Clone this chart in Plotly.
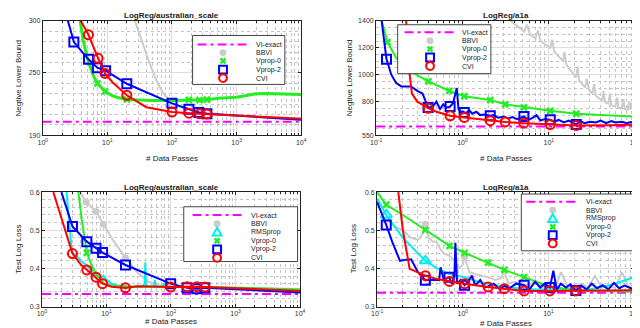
import plotly.graph_objects as go

W, H = 640, 328

# ---------------- LogReg/australian_scale : negative lower bound ----------------
aus_nlb_vi = 203.0
aus_nlb_bbvi_x = [25, 30, 35, 42, 50, 60, 72, 85, 100, 150, 300, 1000, 3000, 10000]
aus_nlb_bbvi_y = [305, 292, 279, 264, 252, 240, 231, 226, 221, 216, 212, 209, 207, 205]
aus_nlb_vp0_x = [3.8, 4.2, 5, 6, 7, 8, 9.2, 12, 15, 20, 30, 50, 100, 183, 267, 348, 520, 700,
                 1000, 1500, 2000, 3000, 5000, 10000]
aus_nlb_vp0_y = [300, 282, 262, 248, 240, 236, 232.3, 228, 226, 224.5, 223.8, 223.5, 223.5, 224,
                 223.8, 224.2, 225.5, 225.8, 226.5, 228.5, 230, 230.2, 229.8, 229.3]
aus_nlb_vp0_mx = [7, 9.2, 20, 183, 267, 348]
aus_nlb_vp0_my = [240, 232.3, 224.5, 224, 223.8, 224.2]
aus_nlb_vp2_x = [2.45, 3.03, 5.1, 7.0, 9.4, 20, 100, 183, 260, 348, 1000, 3000, 10000]
aus_nlb_vp2_y = [300, 279.6, 263, 255, 252, 239.5, 220.7, 215, 212, 210.7, 208.8, 206.8, 205]
aus_nlb_vp2_mx = [3.03, 5.1, 7.0, 9.4, 20, 100, 183, 260, 348]
aus_nlb_vp2_my = [279.6, 263, 255, 252, 239.5, 220.7, 215, 212, 210.7]
aus_nlb_cvi_x = [3.87, 4.3, 5.1, 7.2, 9.2, 12, 20, 40, 100, 183, 267, 348, 1000, 3000, 10000]
aus_nlb_cvi_y = [300, 295, 286.6, 264, 249.5, 241, 228.5, 217, 212.3, 211.3, 210.7, 210.4, 209, 207.5, 206]
aus_nlb_cvi_mx = [5.1, 7.2, 9.2, 20, 100, 183, 267, 348]
aus_nlb_cvi_my = [286.6, 264, 249.5, 228.5, 212.3, 211.3, 210.7, 210.4]

# ---------------- LogReg/a1a : negative lower bound ----------------
a1a_nlb_vi = 615.0
a1a_nlb_bbvi_x = [2.6, 3.0, 3.6, 4.3, 5.2, 5.6, 6.1, 7.0, 7.5, 8.0, 9.0, 10.4, 11.0, 11.5, 12.8,
                  14.7, 15.2, 16.0, 17.5, 19.0, 20.8, 21.5, 22.5, 24.5, 26.5, 27.5, 29.4, 32, 33.5,
                  35, 38, 41.7, 43, 45, 49, 51, 53, 59, 62, 64, 70, 73, 76, 82, 85, 88, 91, 94, 100]
a1a_nlb_bbvi_y = [1480, 1450, 1400, 1360, 1320, 1370, 1296, 1270, 1330, 1250, 1225, 1199, 1260,
                  1175, 1140, 1102, 1170, 1075, 1040, 1010, 981, 1060, 955, 930, 905, 970, 884,
                  860, 930, 845, 825, 811, 880, 795, 785, 860, 770, 763, 830, 755, 748, 820, 744,
                  740, 800, 741, 790, 738, 739]
a1a_nlb_vp0_x = [0.116, 0.1356, 0.17, 0.24, 0.403, 0.705, 1.05, 2.1, 3.13, 5.15, 10.4, 20.8, 50, 100]
a1a_nlb_vp0_y = [1400, 1242, 1126, 1030, 950, 879, 840, 812, 780, 758, 731.6, 710, 695, 688]
a1a_nlb_vp0_mx = [0.1356, 0.403, 0.705, 1.05, 2.1, 3.13, 5.15, 10.4, 20.8]
a1a_nlb_vp0_my = [1242, 950, 879, 840, 812, 780, 758, 731.6, 710]
a1a_nlb_vp2_x = [0.116, 0.132, 0.15, 0.17, 0.196, 0.22, 0.254, 0.3, 0.345, 0.39, 0.40, 0.45, 0.5,
                 0.55, 0.6, 0.65, 0.72, 0.78, 0.82, 0.86, 0.9, 0.95, 1.0, 1.1, 1.2, 1.3, 1.45, 1.6,
                 1.8, 2.1, 2.3, 2.6, 3.0, 3.4, 3.8, 4.3, 5.15, 5.8, 6.5, 7.2, 8, 9, 10.4, 11.5, 13,
                 15, 17, 20.8, 23, 26, 30, 35, 40, 46, 53, 60, 70, 80, 90, 100]
a1a_nlb_vp2_y = [1400, 1114, 1000, 940, 913, 913, 913, 880, 860, 775, 756, 760, 800, 745, 780,
                 755, 763, 790, 860, 901, 745, 720, 727, 715, 735, 710, 725, 700, 705, 695, 700,
                 680, 690, 675, 685, 670, 690, 665, 680, 700, 660, 670, 666, 650, 665, 645, 660,
                 630, 655, 640, 650, 645, 660, 640, 655, 645, 650, 640, 648, 637]
a1a_nlb_vp2_mx = [0.132, 0.40, 0.72, 1.05, 2.1, 5.15, 10.4, 20.8]
a1a_nlb_vp2_my = [1114, 756, 763, 720, 695, 690, 666, 630]
a1a_nlb_cvi_x = [0.223, 0.235, 0.26, 0.3, 0.376, 0.40, 0.5, 0.72, 1.05, 2.1, 3.13, 5.15, 10.4, 20.8, 50, 100]
a1a_nlb_cvi_y = [1400, 1100, 860, 800, 763, 751, 725, 695, 683, 659, 649, 640, 630, 623, 625, 628]
a1a_nlb_cvi_mx = [0.40, 0.72, 1.05, 2.1, 3.13, 5.15, 10.4, 20.8]
a1a_nlb_cvi_my = [751, 695, 683, 659, 649, 640, 630, 623]

# ---------------- LogReg/australian_scale : test log loss ----------------
aus_tll_vi = 0.333
aus_tll_bbvi_x = [3.6, 4.85, 6.88, 8.9, 12, 19.7, 30, 45, 63, 100, 300, 1000, 10000]
aus_tll_bbvi_y = [0.61, 0.574, 0.549, 0.516, 0.48, 0.427, 0.39, 0.365, 0.356, 0.353, 0.352, 0.35, 0.346]
aus_tll_bbvi_mx = [4.85, 6.88, 8.9, 19.7]
aus_tll_bbvi_my = [0.574, 0.549, 0.516, 0.427]
aus_tll_rms_x = [2.4, 2.9, 3.3, 4, 5, 6, 7, 8, 9, 10, 12, 15, 20, 25, 30, 36, 39, 40, 41, 45, 50,
                 55, 56, 58, 65, 75, 80, 82, 90, 100, 200, 500, 1000, 3000, 10000]
aus_tll_rms_y = [0.60, 0.446, 0.435, 0.42, 0.407, 0.39, 0.379, 0.375, 0.381, 0.37, 0.36, 0.355,
                 0.353, 0.352, 0.352, 0.353, 0.36, 0.416, 0.355, 0.352, 0.353, 0.356, 0.37, 0.353,
                 0.352, 0.354, 0.362, 0.352, 0.352, 0.352, 0.351, 0.35, 0.349, 0.346, 0.343]
aus_tll_vp0_x = [3.6, 4.2, 4.96, 6.0, 6.88, 9.2, 12, 20, 50, 100, 1000, 10000]
aus_tll_vp0_y = [0.61, 0.52, 0.441, 0.405, 0.386, 0.36, 0.355, 0.352, 0.352, 0.352, 0.349, 0.345]
aus_tll_vp0_mx = [4.96]
aus_tll_vp0_my = [0.441]
aus_tll_vp2_x = [2.0, 2.97, 4.96, 6.88, 8.7, 19.7, 98.9, 177, 252, 334, 1000, 10000]
aus_tll_vp2_y = [0.6, 0.51, 0.47, 0.4526, 0.4414, 0.409, 0.36, 0.349, 0.347, 0.349, 0.345, 0.337]
aus_tll_vp2_mx = [2.97, 4.96, 6.88, 8.7, 19.7, 98.9, 177, 252, 334]
aus_tll_vp2_my = [0.51, 0.47, 0.4526, 0.4414, 0.409, 0.36, 0.349, 0.347, 0.349]
aus_tll_cvi_x = [1.5, 2.0, 2.5, 2.97, 4.0, 4.96, 6.88, 8.7, 12, 19.7, 30, 50, 98.9, 177, 252, 334, 1000, 10000]
aus_tll_cvi_y = [0.6, 0.53, 0.475, 0.439, 0.41, 0.396, 0.377, 0.36, 0.352, 0.349, 0.353, 0.352,
                 0.351, 0.352, 0.352, 0.351, 0.348, 0.341]
aus_tll_cvi_mx = [2.97, 4.96, 6.88, 8.7, 19.7, 98.9, 177, 252, 334]
aus_tll_cvi_my = [0.439, 0.396, 0.377, 0.36, 0.349, 0.351, 0.352, 0.352, 0.351]

# ---------------- LogReg/a1a : test log loss ----------------
a1a_tll_vi = 0.336
a1a_tll_bbvi_x = [0.13, 0.16, 0.2, 0.25, 0.3, 0.34, 0.366, 0.4, 0.45, 0.49, 0.55, 0.6, 0.7, 0.8,
                  0.9, 1.0, 1.05, 1.2, 1.4, 1.7, 1.98, 2.4, 2.8, 3.06, 3.4, 4.0, 5.0, 6.0, 7.0,
                  8.5, 10, 12, 14, 17, 20, 24, 29, 35, 42, 50, 60, 72, 86, 100]
a1a_tll_bbvi_y = [0.53, 0.51, 0.5, 0.48, 0.475, 0.49, 0.516, 0.48, 0.47, 0.47, 0.45, 0.44, 0.433,
                  0.42, 0.4, 0.41, 0.43, 0.39, 0.385, 0.38, 0.377, 0.37, 0.375, 0.394, 0.36, 0.365,
                  0.36, 0.355, 0.37, 0.35, 0.356, 0.35, 0.39, 0.35, 0.348, 0.36, 0.35, 0.38, 0.349,
                  0.355, 0.348, 0.39, 0.35, 0.36]
a1a_tll_bbvi_mx = [0.366, 1.05]
a1a_tll_bbvi_my = [0.516, 0.43]
a1a_tll_rms_x = [0.1, 0.128, 0.2, 0.366, 0.5, 0.7, 1.05, 1.5, 1.98, 3, 5, 7, 10.4, 15, 20.9, 30, 50, 70, 100]
a1a_tll_rms_y = [0.583, 0.54, 0.48, 0.42, 0.4, 0.385, 0.377, 0.365, 0.36, 0.352, 0.347, 0.345,
                 0.345, 0.343, 0.342, 0.345, 0.355, 0.365, 0.377]
a1a_tll_rms_mx = [0.128, 0.366]
a1a_tll_rms_my = [0.54, 0.42]
a1a_tll_vp0_x = [0.1, 0.128, 0.2, 0.366, 0.70, 1.05, 1.98, 3.06, 5.2, 10.4, 20.9, 50, 100]
a1a_tll_vp0_y = [0.6, 0.567, 0.54, 0.501, 0.459, 0.441, 0.415, 0.396, 0.377, 0.352, 0.343, 0.34, 0.339]
a1a_tll_vp0_mx = [0.128, 0.366, 0.70, 1.05, 1.98, 3.06, 5.2]
a1a_tll_vp0_my = [0.567, 0.501, 0.459, 0.441, 0.415, 0.396, 0.377]
a1a_tll_vp2_x = [0.1, 0.128, 0.15, 0.185, 0.22, 0.25, 0.3, 0.366, 0.45, 0.53, 0.55, 0.6, 0.69,
                 0.75, 0.8, 0.82, 0.86, 0.95, 1.05, 1.15, 1.28, 1.4, 1.6, 1.8, 1.98, 2.3, 2.7,
                 3.06, 3.5, 4.2, 5.2, 6, 7, 8, 9, 10.4, 11.4, 12.5, 14, 16, 18, 20.9, 24, 28, 32,
                 37, 43, 50, 58, 67, 77, 88, 100]
a1a_tll_vp2_y = [0.574, 0.514, 0.47, 0.42, 0.423, 0.424, 0.39, 0.369, 0.37, 0.369, 0.403, 0.37,
                 0.377, 0.36, 0.38, 0.467, 0.36, 0.37, 0.356, 0.365, 0.381, 0.355, 0.37, 0.35,
                 0.353, 0.36, 0.345, 0.355, 0.348, 0.36, 0.356, 0.345, 0.365, 0.35, 0.36, 0.35,
                 0.394, 0.345, 0.36, 0.35, 0.358, 0.342, 0.355, 0.345, 0.36, 0.348, 0.356, 0.345,
                 0.362, 0.348, 0.355, 0.35, 0.345]
a1a_tll_vp2_mx = [0.128, 0.366, 0.69, 1.05, 5.2, 10.4, 20.9]
a1a_tll_vp2_my = [0.514, 0.369, 0.377, 0.356, 0.356, 0.35, 0.342]
a1a_tll_cvi_x = [0.177, 0.2, 0.24, 0.3, 0.366, 0.5, 0.70, 1.05, 1.98, 3.06, 5.2, 10.4, 20.9, 50, 100]
a1a_tll_cvi_y = [0.6, 0.5, 0.399, 0.39, 0.381, 0.372, 0.366, 0.36, 0.351, 0.347, 0.341, 0.341, 0.341, 0.342, 0.343]
a1a_tll_cvi_mx = [0.366, 0.70, 1.05, 1.98, 3.06, 5.2, 10.4, 20.9]
a1a_tll_cvi_my = [0.381, 0.366, 0.36, 0.351, 0.347, 0.341, 0.341, 0.341]

MAGENTA, GRAY, CYAN, GREEN, BLUE, RED = '#ff00ff', '#cccccc', '#00eeee', '#22ee22', '#0000ff', '#ff0000'
FONT = 'Liberation Sans'

fig = go.Figure()


def line(x, y, color, ax, width=2):
    fig.add_trace(go.Scatter(x=x, y=y, mode='lines', line=dict(color=color, width=width),
                             xaxis='x' + ax, yaxis='y' + ax, showlegend=False))


def marks(x, y, symbol, color, ax, size=9, lw=2):
    fig.add_trace(go.Scatter(x=x, y=y, mode='markers', xaxis='x' + ax, yaxis='y' + ax,
                             showlegend=False, cliponaxis=True,
                             marker=dict(symbol=symbol, color=color, size=size, line=dict(width=lw, color=color))))


def vi_line(v, xr, ax):
    fig.add_trace(go.Scatter(x=xr, y=[v, v], mode='lines', xaxis='x' + ax, yaxis='y' + ax,
                             showlegend=False, line=dict(color=MAGENTA, width=2, dash='9px,4px,3px,4px')))


# top-left
vi_line(aus_nlb_vi, [1, 10000], '')
line(aus_nlb_bbvi_x, aus_nlb_bbvi_y, GRAY, '')
line(aus_nlb_vp0_x, aus_nlb_vp0_y, GREEN, '', 3)
marks(aus_nlb_vp0_mx, aus_nlb_vp0_my, 'x-thin-open', GREEN, '', 6, 2.5)
line(aus_nlb_vp2_x, aus_nlb_vp2_y, BLUE, '')
marks(aus_nlb_vp2_mx, aus_nlb_vp2_my, 'square-open', BLUE, '')
line(aus_nlb_cvi_x, aus_nlb_cvi_y, RED, '')
marks(aus_nlb_cvi_mx, aus_nlb_cvi_my, 'circle-open', RED, '')

# top-right
vi_line(a1a_nlb_vi, [0.1, 100], '2')
line(a1a_nlb_bbvi_x, a1a_nlb_bbvi_y, GRAY, '2')
line(a1a_nlb_vp0_x, a1a_nlb_vp0_y, GREEN, '2')
marks(a1a_nlb_vp0_mx, a1a_nlb_vp0_my, 'x-thin-open', GREEN, '2', 6, 2.5)
line(a1a_nlb_vp2_x, a1a_nlb_vp2_y, BLUE, '2')
marks(a1a_nlb_vp2_mx, a1a_nlb_vp2_my, 'square-open', BLUE, '2')
line(a1a_nlb_cvi_x, a1a_nlb_cvi_y, RED, '2')
marks(a1a_nlb_cvi_mx, a1a_nlb_cvi_my, 'circle-open', RED, '2')

# bottom-left
vi_line(aus_tll_vi, [1, 10000], '3')
line(aus_tll_bbvi_x, aus_tll_bbvi_y, GRAY, '3')
marks(aus_tll_bbvi_mx, aus_tll_bbvi_my, 'circle', GRAY, '3', 7, 0)
line(aus_tll_rms_x, aus_tll_rms_y, CYAN, '3')
line(aus_tll_vp0_x, aus_tll_vp0_y, GREEN, '3')
marks(aus_tll_vp0_mx, aus_tll_vp0_my, 'x-thin-open', GREEN, '3', 6, 2.5)
line(aus_tll_vp2_x, aus_tll_vp2_y, BLUE, '3')
marks(aus_tll_vp2_mx, aus_tll_vp2_my, 'square-open', BLUE, '3')
line(aus_tll_cvi_x, aus_tll_cvi_y, RED, '3')
marks(aus_tll_cvi_mx, aus_tll_cvi_my, 'circle-open', RED, '3')

# bottom-right
vi_line(a1a_tll_vi, [0.1, 100], '4')
line(a1a_tll_bbvi_x, a1a_tll_bbvi_y, GRAY, '4')
marks(a1a_tll_bbvi_mx, a1a_tll_bbvi_my, 'circle', GRAY, '4', 7, 0)
line(a1a_tll_rms_x, a1a_tll_rms_y, CYAN, '4')
marks(a1a_tll_rms_mx, a1a_tll_rms_my, 'triangle-up-open', CYAN, '4', 10)
line(a1a_tll_vp0_x, a1a_tll_vp0_y, GREEN, '4')
marks(a1a_tll_vp0_mx, a1a_tll_vp0_my, 'x-thin-open', GREEN, '4', 6, 2.5)
line(a1a_tll_vp2_x, a1a_tll_vp2_y, BLUE, '4')
marks(a1a_tll_vp2_mx, a1a_tll_vp2_my, 'square-open', BLUE, '4')
line(a1a_tll_cvi_x, a1a_tll_cvi_y, RED, '4')
marks(a1a_tll_cvi_mx, a1a_tll_cvi_my, 'circle-open', RED, '4')


def dom_x(a, b):
    return [a / W, b / W]


def dom_y(top, bottom):
    return [1 - bottom / H, 1 - top / H]


def pow_text(exps):
    return ['10<sup>%d</sup>' % e for e in exps]


tick_font = dict(family=FONT, size=7, color='#333333')
common = dict(showline=True, linecolor='#222222', linewidth=1, mirror='ticks', ticks='inside',
              ticklen=3, tickcolor='#222222', showgrid=True, gridcolor='#dddddd', gridwidth=1,
              zeroline=False, tickfont=tick_font)
MINOR_GRID = dict(showgrid=True, gridcolor='#c4c4c4', griddash='dot', gridwidth=1)


def xaxis(domain, e0, e1, anchor):
    return dict(common, type='log', domain=domain, range=[e0, e1], anchor=anchor,
                tickvals=[10 ** e for e in range(e0, e1 + 1)], ticktext=pow_text(range(e0, e1 + 1)),
                minor=dict(MINOR_GRID, dtick='D1', ticks='inside', ticklen=2, tickcolor='#222222'))


def yaxis(domain, rng, vals, mdt, anchor):
    return dict(common, domain=domain, range=rng, anchor=anchor, tickvals=vals,
                minor=dict(MINOR_GRID, dtick=mdt, tick0=rng[0], ticks=''))


top_dom = dom_y(9, 126)
bot_dom = dom_y(184, 301)
fig.update_layout(
    xaxis=xaxis(dom_x(29.3, 292.7), 0, 4, 'y'),
    yaxis=yaxis(top_dom, [190, 300], [190, 250, 300], 10, 'x'),
    xaxis2=xaxis(dom_x(369, 633), -1, 2, 'y2'),
    yaxis2=yaxis(top_dom, [550, 1400], [550, 800, 1000, 1200, 1400], 50, 'x2'),
    xaxis3=xaxis(dom_x(28.5, 291.5), 0, 4, 'y3'),
    yaxis3=yaxis(bot_dom, [0.3, 0.6], [0.3, 0.4, 0.5, 0.6], 0.02, 'x3'),
    xaxis4=xaxis(dom_x(370, 632), -1, 2, 'y4'),
    yaxis4=yaxis(bot_dom, [0.3, 0.6], [0.3, 0.4, 0.5, 0.6], 0.02, 'x4'),
)

shapes = []
annots = []


def P(x, y):
    return x / W, 1 - y / H


def text(x, y, s, size=7, bold=False, angle=0, anchor='center'):
    px, py = P(x, y)
    annots.append(dict(x=px, y=py, xref='paper', yref='paper', text='<b>%s</b>' % s if bold else s,
                       showarrow=False, textangle=angle, xanchor=anchor, yanchor='middle',
                       font=dict(family=FONT, size=size, color='#222222')))


def glyph(kind, mx, y, lx0, lx1):
    if kind == 'VI-exact':
        a, b = P(lx0, y)
        c, _ = P(lx1, y)
        shapes.append(dict(type='line', xref='paper', yref='paper', x0=a, y0=b, x1=c, y1=b, layer='above',
                           line=dict(color=MAGENTA, width=2, dash='9px,4px,3px,4px')))
        return
    r = 4
    x0, y0 = P(mx - r, y - r)
    x1, y1 = P(mx + r, y + r)
    if kind == 'BBVI':
        x0, y0 = P(mx - 3.5, y - 3.5)
        x1, y1 = P(mx + 3.5, y + 3.5)
        shapes.append(dict(type='circle', xref='paper', yref='paper', x0=x0, y0=y0, x1=x1, y1=y1,
                           layer='above', fillcolor=GRAY, line=dict(width=0)))
    elif kind == 'CVI':
        shapes.append(dict(type='circle', xref='paper', yref='paper', x0=x0, y0=y0, x1=x1, y1=y1,
                           layer='above', line=dict(color=RED, width=2)))
    elif kind == 'Vprop-2':
        shapes.append(dict(type='rect', xref='paper', yref='paper', x0=x0, y0=y0, x1=x1, y1=y1,
                           layer='above', line=dict(color=BLUE, width=2)))
    elif kind == 'Vprop-0':
        q = 2.5
        a = P(mx - q, y - q)
        b = P(mx + q, y + q)
        c = P(mx - q, y + q)
        d = P(mx + q, y - q)
        path = 'M%f,%f L%f,%f M%f,%f L%f,%f' % (a + b + c + d)
        shapes.append(dict(type='path', xref='paper', yref='paper', path=path, layer='above',
                           line=dict(color=GREEN, width=2.5)))
    elif kind == 'RMSprop':
        a = P(mx, y - 4.5)
        b = P(mx - 4.5, y + 3.5)
        c = P(mx + 4.5, y + 3.5)
        path = 'M%f,%f L%f,%f L%f,%f Z' % (a + b + c)
        shapes.append(dict(type='path', xref='paper', yref='paper', path=path, layer='above',
                           line=dict(color=CYAN, width=2)))


def legend(box, rows, lx0, lx1, mx, tx):
    a, b = P(box[0], box[1])
    c, d = P(box[2], box[3])
    shapes.append(dict(type='rect', xref='paper', yref='paper', x0=a, y0=b, x1=c, y1=d, layer='above',
                       fillcolor='white', line=dict(color='#444444', width=1)))
    for name, y in rows:
        glyph(name, mx, y, lx0, lx1)
        text(tx, y, name, anchor='left')


names5 = ['VI-exact', 'BBVI', 'Vprop-0', 'Vprop-2', 'CVI']
names6 = ['VI-exact', 'BBVI', 'RMSprop', 'Vprop-0', 'Vprop-2', 'CVI']
legend((182, 24, 276, 74), zip(names5, [33.3, 41.5, 50, 58.8, 67.5]), 187, 240, 213, 245)
legend((391, 13, 486, 63), zip(names5, [20.7, 29.3, 37.8, 46.5, 55.2]), 398, 448, 424, 455)
legend((173, 199, 289, 255), zip(names6, [207.5, 216.3, 225, 233.8, 242.5, 251.2]), 182, 233, 207, 239)
legend((517, 186, 632, 244), zip(names6, [194, 202.5, 211, 219.5, 228, 236.5]), 522, 575, 549, 581)

# titles and axis labels
text(161, 4, 'LogReg/australian_scale', size=8, bold=True)
text(501, 4, 'LogReg/a1a', size=8, bold=True)
text(160, 179, 'LogReg/australian_scale', size=8, bold=True)
text(501, 179, 'LogReg/a1a', size=8, bold=True)
text(161, 150, '# Data Passes', size=8)
text(501, 150, '# Data Passes', size=8)
text(160, 316, '# Data Passes', size=8)
text(501, 318, '# Data Passes', size=8)
text(5, 67, 'Negtive Lower Bound', size=8, angle=-90)
text(342, 67, 'Negtive Lower Bound', size=8, angle=-90)
text(5, 242, 'Test Log Loss', size=8, angle=-90)
text(346, 242, 'Test Log Loss', size=8, angle=-90)

fig.update_layout(width=W, height=H, margin=dict(l=0, r=0, t=0, b=0), paper_bgcolor='white',
                  plot_bgcolor='white', showlegend=False, shapes=shapes, annotations=annots,
                  font=dict(family=FONT, size=7))

fig.write_html("out.html")
